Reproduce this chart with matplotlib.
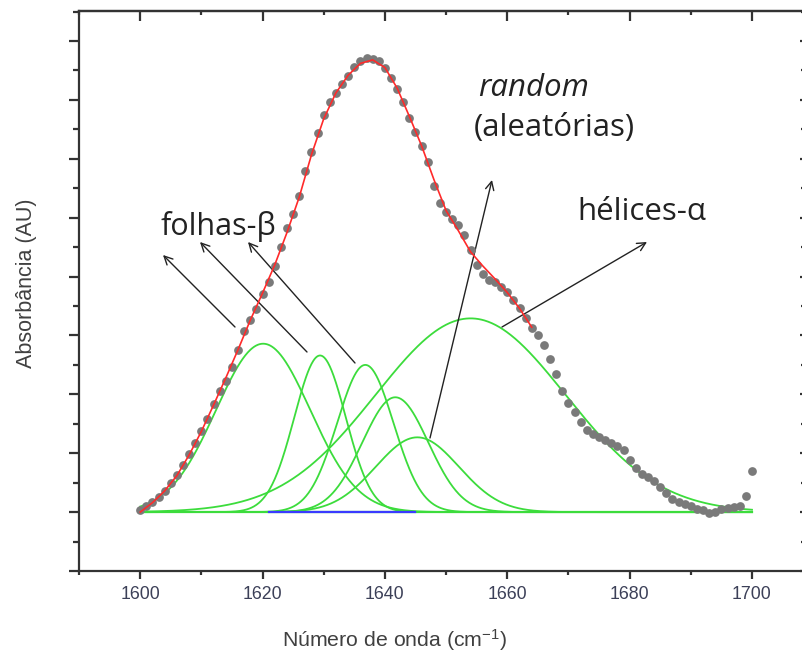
import numpy as np
import matplotlib
matplotlib.use("Agg")
import matplotlib.pyplot as plt
from matplotlib.ticker import MultipleLocator, NullFormatter

# ---------------- data ----------------
wavenumber = list(range(1600, 1701))
absorbance = [
    0.003, 0.010, 0.018, 0.026, 0.036, 0.050, 0.063, 0.080, 0.098, 0.118,
    0.137, 0.158, 0.183, 0.205, 0.222, 0.247, 0.275, 0.307, 0.327, 0.345,
    0.370, 0.390, 0.418, 0.450, 0.482, 0.507, 0.537, 0.580, 0.612, 0.643,
    0.675, 0.696, 0.712, 0.727, 0.740, 0.756, 0.766, 0.771, 0.770, 0.766,
    0.755, 0.738, 0.718, 0.697, 0.670, 0.645, 0.622, 0.595, 0.553, 0.525,
    0.510, 0.498, 0.488, 0.470, 0.445, 0.420, 0.405, 0.395, 0.390, 0.382,
    0.374, 0.360, 0.347, 0.329, 0.313, 0.300, 0.283, 0.260, 0.235, 0.205,
    0.185, 0.170, 0.153, 0.140, 0.133, 0.127, 0.122, 0.117, 0.112, 0.105,
    0.088, 0.075, 0.064, 0.060, 0.052, 0.042, 0.032, 0.023, 0.018, 0.014,
    0.010, 0.006, 0.003, -0.002, 0.000, 0.005, 0.007, 0.008, 0.010, 0.028,
    0.070,
]

# overall fit (red curve)
fit_x = [1600, 1602, 1604, 1606, 1608, 1610, 1612, 1614, 1616, 1618, 1620,
         1622, 1624, 1626, 1628, 1630, 1632, 1634, 1636, 1638, 1640, 1642,
         1644, 1646, 1648, 1650, 1652, 1654, 1656, 1658, 1660, 1662, 1664]
fit_y = [0.000, 0.016, 0.036, 0.062, 0.097, 0.137, 0.182, 0.228, 0.276,
         0.326, 0.372, 0.420, 0.475, 0.535, 0.607, 0.668, 0.712, 0.742,
         0.762, 0.768, 0.755, 0.720, 0.672, 0.622, 0.565, 0.512, 0.478,
         0.442, 0.418, 0.396, 0.373, 0.346, 0.314]

# deconvolved components (Gaussian bands)
band_center = [1620.1, 1629.4, 1636.8, 1641.7, 1645.3, 1654.0]
band_height = [0.286, 0.266, 0.250, 0.195, 0.127, 0.329]
band_sigma = [7.7, 4.2, 4.6, 5.4, 6.8, 15.5]

# baseline region (blue)
blue_x = [1621, 1645]
blue_y = [0.0, 0.0]

xticks = [1600, 1620, 1640, 1660, 1680, 1700]

# ---------------- figure ----------------
plt.rcParams['mathtext.fontset'] = 'custom'
plt.rcParams['mathtext.rm'] = 'Liberation Sans'
plt.rcParams['mathtext.it'] = 'Liberation Sans:italic'

W, H = 803, 656
fig = plt.figure(figsize=(W / 100, H / 100), dpi=100)
ax = fig.add_axes([79 / W, 85 / H, 725 / W, 560 / H])

green = '#3cdc3c'
grid = np.linspace(1600, 1700, 1001)
for c, h, s in zip(band_center, band_height, band_sigma):
    ax.plot(grid, h * np.exp(-(grid - c) ** 2 / (2 * s ** 2)), color=green,
            lw=1.3, zorder=2)
ax.plot([1600, 1700], [0, 0], color=green, lw=1.6, zorder=2)
ax.plot(blue_x, blue_y, color='#3a3aff', lw=1.6, zorder=3)

ax.plot(wavenumber, absorbance, 'o', color='#7a7a7a', ms=6.3, mec='none',
        zorder=4)
ax.plot(fit_x, fit_y, color='#ff2a2a', lw=1.2, zorder=5)

ax.set_xlim(1590, 1708.5)
ax.set_ylim(-0.1, 0.851)

spine_c = '#333333'
for sp in ax.spines.values():
    sp.set_color(spine_c)
    sp.set_linewidth(1.6)

ax.set_xticks(xticks)
ax.xaxis.set_minor_locator(MultipleLocator(10))
ax.yaxis.set_major_locator(MultipleLocator(0.1))
ax.yaxis.set_minor_locator(MultipleLocator(0.05))
ax.yaxis.set_major_formatter(NullFormatter())
ax.tick_params(axis='x', which='major', direction='out', length=6, width=1.6,
               color=spine_c, labelsize=12.8, labelcolor='#3c4058', pad=5,
               top=False)
ax.tick_params(axis='x', which='minor', direction='out', length=3, width=1.6,
               color=spine_c, top=False)
ax.tick_params(axis='y', which='major', direction='out', length=7.5, width=1.6,
               color=spine_c, right=False)
ax.tick_params(axis='y', which='minor', direction='out', length=4, width=1.6,
               color=spine_c, right=False)
for lab in ax.get_xticklabels():
    lab.set_family('Liberation Sans')

top = ax.secondary_xaxis('top')
top.set_xticks(xticks)
top.xaxis.set_minor_locator(MultipleLocator(10))
top.xaxis.set_major_formatter(NullFormatter())
top.tick_params(which='major', direction='in', length=7.5, width=1.6, color=spine_c)
top.tick_params(which='minor', direction='in', length=3, width=1.6, color=spine_c)
top.spines['top'].set_linewidth(1.6)
top.spines['top'].set_color(spine_c)

right = ax.secondary_yaxis('right')
right.yaxis.set_major_locator(MultipleLocator(0.1))
right.yaxis.set_minor_locator(MultipleLocator(0.05))
right.yaxis.set_major_formatter(NullFormatter())
right.tick_params(which='major', direction='in', length=3, width=1.6, color=spine_c)
right.tick_params(which='minor', direction='in', length=2, width=1.6, color=spine_c)

fig.text(395 / W, 1 - 640 / H, 'Número de onda (cm$^{-1}$)', ha='center',
         va='center', fontsize=15.3, color='#404040', family='Liberation Sans')
fig.text(27 / W, 1 - 283 / H, 'Absorbância (AU)', ha='center', va='center',
         rotation=90, fontsize=15.5, color='#404040', family='Liberation Sans')

tf = ['Open Sans', 'DejaVu Sans']
tc = '#222222'
fig.text(161 / W, 1 - 226 / H, 'folhas-β', ha='left', va='center',
         fontsize=22, color=tc, family=tf)
fig.text(478 / W, 1 - 88 / H, 'random', ha='left', va='center',
         fontsize=22.5, color=tc, family=tf, style='italic')
fig.text(474 / W, 1 - 128 / H, '(aleatórias)', ha='left', va='center',
         fontsize=22.5, color=tc, family=tf)
fig.text(577 / W, 1 - 212 / H, 'hélices-α', ha='left', va='center',
         fontsize=22.5, color=tc, family=tf)

arrows = [((235, 327), (163, 255)),
          ((307, 352), (200, 242)),
          ((355, 363), (248, 242)),
          ((430, 438), (492, 180)),
          ((502, 327), (647, 242))]
for (x0, y0), (x1, y1) in arrows:
    ax.annotate('', xy=(x1, H - y1), xytext=(x0, H - y0),
                xycoords='figure pixels', textcoords='figure pixels',
                arrowprops=dict(arrowstyle='->', color='#222222', lw=1.0,
                                shrinkA=0, shrinkB=0,
                                mutation_scale=15))

fig.savefig('out.png', dpi=100)
